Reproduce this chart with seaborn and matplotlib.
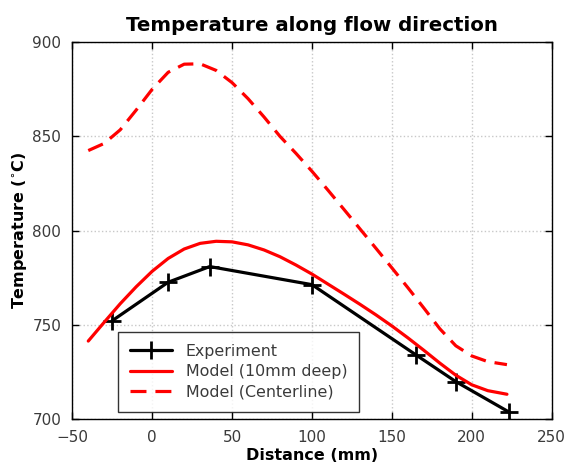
import numpy as np
import pandas as pd
import matplotlib
matplotlib.use("Agg")
import matplotlib.pyplot as plt
import seaborn as sns

# experiment: measured points
exp_x = [-25, 10, 36, 100, 165, 190, 223]
exp_y = [752.3, 772.7, 781, 771.4, 734.2, 720, 704]

# model 10mm deep
deep_x = [-40, -30, -20, -10, 0, 10, 20, 30, 40, 50, 60, 70, 80, 90, 100,
          110, 120, 130, 140, 150, 160, 170, 180, 190, 200, 210, 222]
deep_y = [741.5, 751.5, 761.3, 770.3, 778.5, 785.3, 790.3, 793.3, 794.4,
          794.1, 792.5, 789.8, 786.2, 781.8, 777, 771.7, 766.4, 761, 755.4,
          749.5, 743.2, 736.6, 729.8, 723.4, 718.3, 715.2, 713.3]

# model centerline
cent_x = deep_x
cent_y = [842.5, 846.3, 853.5, 864, 875, 884, 888.3, 888.5, 885, 878.5,
          870, 860.3, 850, 841, 831.5, 821.5, 811.3, 801, 790.7, 780.3,
          769.8, 759, 748, 739, 733.6, 730.6, 729]

sns.set_style("ticks")
plt.rcParams['font.family'] = ['DejaVu Sans']

fig = plt.figure(figsize=(5.67, 4.68), dpi=100)
ax = fig.add_axes([0.1275, 0.104, 0.8455, 0.806])

tick_col = '#3a3a3a'

sns.lineplot(x=exp_x, y=exp_y, ax=ax, color='black', lw=2.3, marker='+',
             markersize=12.5, markeredgewidth=2, markeredgecolor='black',
             label='Experiment', estimator=None, sort=False)
sns.lineplot(x=deep_x, y=deep_y, ax=ax, color='#ff0000', lw=2.3,
             label='Model (10mm deep)', estimator=None, sort=False)
sns.lineplot(x=cent_x, y=cent_y, ax=ax, color='#ff0000', lw=2.3,
             label='Model (Centerline)', estimator=None, sort=False)
ax.lines[2].set_dashes((5, 2.8))
for ln in ax.lines:
    ln.set_solid_joinstyle('round')
    ln.set_dash_joinstyle('round')

ax.set_xlim(-50, 250)
ax.set_ylim(700, 900)
ax.set_xticks(np.arange(-50, 251, 50))
ax.set_yticks(np.arange(700, 901, 50))

ax.grid(True, color='#c8c8c8', linestyle=':', lw=1)
ax.tick_params(direction='in', length=5, width=1, top=True, right=True,
               labelsize=11, labelcolor=tick_col, color='black', pad=8)
for s in ax.spines.values():
    s.set_visible(True)
    s.set_color('black')
    s.set_linewidth(1)

ax.set_title('Temperature along flow direction', fontsize=14.2,
             fontweight='bold', pad=8, color='black')
ax.set_xlabel('Distance (mm)', fontsize=11.5, fontweight='bold', labelpad=2,
              color='black')
ax.set_ylabel(r'Temperature ($^{\circ}$C)', fontsize=11.5, fontweight='bold',
              labelpad=2, color='black')

leg = ax.legend(loc='lower left', bbox_to_anchor=(0.095, 0.02),
                borderaxespad=0, fancybox=False, frameon=True, fontsize=11.4,
                handlelength=2.65, handletextpad=0.9, labelspacing=0.35,
                borderpad=0.75)
leg.get_frame().set_edgecolor('black')
leg.get_frame().set_linewidth(1)
for t in leg.get_texts():
    t.set_color(tick_col)

fig.savefig('out.png', dpi=100)
